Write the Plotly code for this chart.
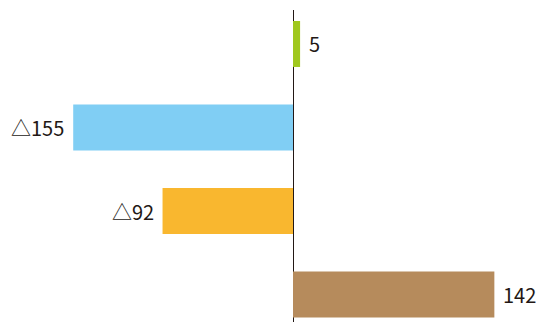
import plotly.graph_objects as go

categories = ["A", "B", "C", "D"]
values = [5, -155, -92, 142]
labels = ["5", "△155", "△92", "142"]
colors = ["#a0c81e", "#80cef4", "#f9b72f", "#b68b5c"]

fig = go.Figure()
fig.add_trace(go.Bar(
    y=categories, x=values, orientation="h",
    marker=dict(color=colors, line=dict(width=0)),
    hoverinfo="skip",
))

for c, v, t in zip(categories, values, labels):
    fig.add_annotation(
        x=v, y=c, text=t, showarrow=False,
        xanchor="left" if v >= 0 else "right",
        xshift=7 if v >= 0 else -7,
        font=dict(family="Noto Sans CJK JP", size=20, color="#231815"),
    )

px_per_unit = 1.418
fig.update_layout(
    width=539, height=322,
    margin=dict(l=0, r=0, t=10, b=0),
    paper_bgcolor="white", plot_bgcolor="white",
    bargap=0.45,
    showlegend=False,
    xaxis=dict(range=[-293 / px_per_unit, 246 / px_per_unit], showgrid=False,
               showticklabels=False, zeroline=True, zerolinecolor="#231815",
               zerolinewidth=1, fixedrange=True),
    yaxis=dict(range=[3.329, -0.407], showgrid=False, showticklabels=False,
               zeroline=False, fixedrange=True),
)

fig.write_html("out.html", config={"displayModeBar": False},
               post_script="document.body.style.margin='0px';")
